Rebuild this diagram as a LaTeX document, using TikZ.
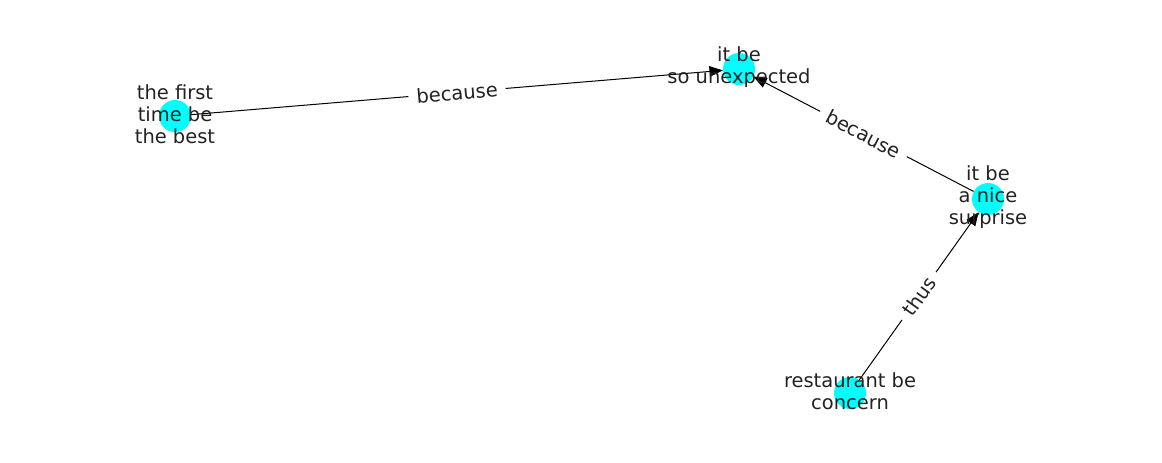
\documentclass[tikz,border=0pt]{standalone}
\usepackage{fontspec}
\setmainfont{DejaVu Sans}
\usetikzlibrary{arrows.meta}
\definecolor{aqua}{RGB}{0,255,255}
\definecolor{ink}{RGB}{34,34,34}

\begin{document}
\begin{tikzpicture}[x=0.75pt, y=-0.75pt,
    dot/.style={circle, fill=aqua, minimum size=24pt, inner sep=0pt},
    txt/.style={align=center, text=ink, yshift=1.5pt, font=\fontsize{14.6}{16.5}\selectfont},
    rel/.style={-{Triangle[length=10pt, width=8pt]}, line width=0.75pt},
    lbl/.style={midway, sloped, fill=white, inner xsep=6pt, inner ysep=2pt, text=ink, font=\fontsize{14.6}{16}\selectfont}]
  \useasboundingbox (0,0) rectangle (1162,462);
  % vertices
  \node [dot] (first) at (175,116) {};
  \node [dot] (unexp) at (739,69) {};
  \node [dot] (nice) at (988,199) {};
  \node [dot] (rest) at (850,393) {};
  % edges
  \draw [rel] (first) -- (unexp) node [lbl] {because};
  \draw [rel] (nice) -- (unexp) node [lbl] {because};
  \draw [rel] (rest) -- (nice) node [lbl] {thus};
  % labels
  \node [txt] at (first) {the first\\time be\\the best};
  \node [txt] at (unexp) {it be\\so unexpected};
  \node [txt] at (nice) {it be\\a nice\\surprise};
  \node [txt] at (rest) {restaurant be\\concern};
\end{tikzpicture}
\end{document}
